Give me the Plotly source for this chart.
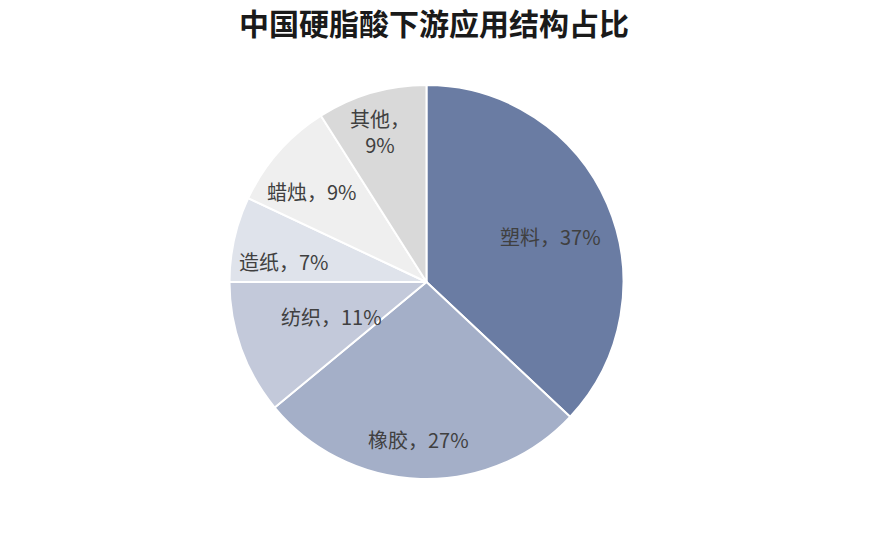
import math
import plotly.graph_objects as go

# 下游应用占比
categories = ['塑料', '橡胶', '纺织', '造纸', '蜡烛', '其他']
shares = [37, 27, 11, 7, 9, 9]
colors = ['#6a7ca3', '#a4afc8', '#c3c9da', '#dfe3eb', '#efefef', '#d9d9d9']

# pie placement (paper coords) and label placement tweaks
dom_x = [0.2543, 0.7066]
dom_y = [0.1278, 0.8574]
label_r = [0.67, 0.80, 0.51, 0.73, 0.74, 0.80]      # fraction of radius
label_da = [3.4, 1.2, 0.0, -4.6, -3.0, -0.8]         # degrees off mid-angle

fig = go.Figure(
    data=[
        go.Pie(
            labels=categories,
            values=shares,
            textinfo='none',
            sort=False,
            direction='clockwise',
            rotation=0,
            marker=dict(colors=colors, line=dict(color='white', width=2)),
            hoverinfo='label+percent',
            domain=dict(x=dom_x, y=dom_y),
        )
    ],
)

# slice labels, placed from the cumulative shares
cx = (dom_x[0] + dom_x[1]) / 2
cy = (dom_y[0] + dom_y[1]) / 2
rx = (dom_x[1] - dom_x[0]) / 2
ry = (dom_y[1] - dom_y[0]) / 2
total = sum(shares)
cum = 0
for i, (c, v) in enumerate(zip(categories, shares)):
    mid = (cum + v / 2) / total * 360 + label_da[i]
    cum += v
    a = math.radians(mid)
    if c == '其他':
        txt = c + '，<br>' + str(v) + '%'
    else:
        txt = c + '，' + str(v) + '%'
    fig.add_annotation(
        x=cx + label_r[i] * rx * math.sin(a),
        y=cy + label_r[i] * ry * math.cos(a),
        xref='paper', yref='paper',
        text=txt, showarrow=False,
        xanchor='center', yanchor='middle',
        font=dict(family='Noto Sans CJK SC', size=20, color='#404040'),
    )

fig.update_layout(
    width=871,
    height=540,
    margin=dict(l=0, r=0, t=0, b=0),
    paper_bgcolor='white',
    showlegend=False,
    title=dict(
        text='<b>中国硬脂酸下游应用结构占比</b>',
        x=0.489, xanchor='center',
        y=0.97, yanchor='middle',
        font=dict(family='Noto Sans CJK SC', size=30, color='#1a1a1a'),
    ),
)

fig.write_html("out.html")
